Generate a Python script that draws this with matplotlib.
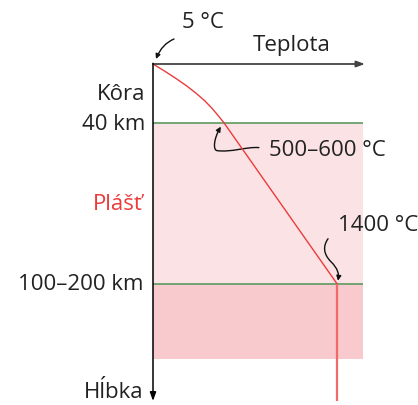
import matplotlib.pyplot as plt
from matplotlib.patches import FancyArrowPatch
from matplotlib.path import Path
from matplotlib.transforms import Affine2D, ScaledTranslation

plt.rcParams['font.family'] = ['Open Sans', 'DejaVu Sans']

# geoterma: hlbka (km) -> teplota (°C)
depth_km = [0, 5, 10, 15, 20, 25, 30, 35, 40, 150]
temp_c = [5, 96, 181, 261, 332, 396, 450, 497, 542, 1400]
# pod litosferou teplota uz nerastie
deep_depth = [150, 230]
deep_temp = [1400, 1400]

crust_base = 40
lith_base = 150
layer_bottom = 201
t_min, t_max = 5, 1612
depth_max = 230
band_right = 1597

RED = '#ec3b3b'
GREEN = '#5c9a5f'
INK = '#222222'

fig = plt.figure(figsize=(4.18, 4.06), dpi=100)
ax = fig.add_axes([153 / 418, 1 - 402 / 406, 212 / 418, 337 / 406])
ax.set_xlim(t_min, t_max)
ax.set_ylim(depth_max, 0)
ax.axis('off')

# vrstvy
ax.fill_between([t_min, band_right], crust_base, lith_base, color='#fbe3e5', lw=0)
ax.fill_between([t_min, band_right], lith_base, layer_bottom, color='#f8c9cd', lw=0)
ax.hlines([crust_base, lith_base], t_min, band_right, color=GREEN, lw=1.2)

ax.plot(temp_c, depth_km, color=RED, lw=1.0, solid_joinstyle='round')
ax.plot(deep_temp, deep_depth, color='#f06a6a', lw=1.6, solid_capstyle='butt')

# osi so sipkami
ax.annotate('', xy=(1, 1), xytext=(0, 1), xycoords='axes fraction',
            arrowprops=dict(arrowstyle='-|>,head_length=0.5,head_width=0.18',
                            color='#444444', lw=1.3, shrinkA=0, shrinkB=0))
ax.annotate('', xy=(0, 0), xytext=(0, 1.002), xycoords='axes fraction',
            arrowprops=dict(arrowstyle='-|>,head_length=0.5,head_width=0.18',
                            color='black', lw=1.1, shrinkA=0, shrinkB=0))

fs = 16


def label(txt, t, d, dx, dy, ha='right', color=INK):
    ax.annotate(txt, xy=(t, d), xytext=(dx, dy), textcoords='offset pixels',
                ha=ha, va='center', fontsize=fs, color=color)


label('Kôra', t_min, crust_base / 2, -8, 0)
label('40 km', t_min, crust_base, -8, -1)
label('Plášť', t_min, (crust_base + lith_base) / 2, -10, 0, color=RED)
label('100–200 km', t_min, lith_base, -10, 0)
label('Hĺbka', t_min, depth_max, -10, 10)
label('Teplota', t_min, 0, 139, 20, ha='center')
label('5 °C', t_min, 0, 50, 42, ha='center')
label('500–600 °C', 542, crust_base, 45, -27, ha='left')
label('1400 °C', 1400, lith_base, 1, 59, ha='left')


def curly_arrow(t, d, verts, codes):
    # vrcholy v pixeloch vzhladom na bod (t, d), y smerom dole
    tr = Affine2D().scale(1, -1) + ScaledTranslation(t, d, ax.transData)
    arrow = FancyArrowPatch(path=Path(verts, codes), arrowstyle='-|>',
                            mutation_scale=7, color='#111111', lw=1.0,
                            shrinkA=0, shrinkB=0, transform=tr)
    arrow.set_clip_on(False)
    ax.add_patch(arrow)


curly_arrow(t_min, 0,
            [(21, -25), (9, -20), (3, -5)],
            [Path.MOVETO, Path.CURVE3, Path.CURVE3])
curly_arrow(542, crust_base,
            [(35, 25), (22, 24), (8, 30), (-7, 28),
             (-11, 27), (-10, 16), (-3, 4)],
            [Path.MOVETO, Path.CURVE4, Path.CURVE4, Path.CURVE4,
             Path.CURVE4, Path.CURVE4, Path.CURVE4])
curly_arrow(1400, lith_base,
            [(-9, -45), (-14, -38), (-14, -30), (-6, -22),
             (1, -15), (2, -10), (1, -3)],
            [Path.MOVETO, Path.CURVE4, Path.CURVE4, Path.CURVE4,
             Path.CURVE4, Path.CURVE4, Path.CURVE4])

fig.savefig('out.png', dpi=100)
